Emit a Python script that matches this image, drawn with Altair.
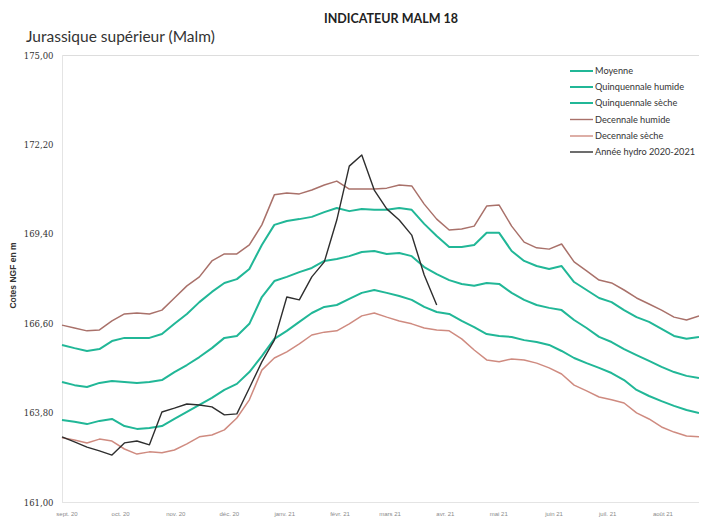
import altair as alt
import pandas as pd

# ---------------- data ----------------
weeks = list(range(52))

moyenne = [164.76, 164.66, 164.60, 164.73, 164.79, 164.76, 164.73, 164.76, 164.82, 165.07,
           165.29, 165.54, 165.82, 166.14, 166.20, 166.58, 167.42, 167.92, 168.05, 168.20,
           168.33, 168.55, 168.61, 168.70, 168.83, 168.86, 168.77, 168.80, 168.70, 168.36,
           168.14, 167.95, 167.83, 167.77, 167.86, 167.83, 167.55, 167.33, 167.17, 167.08,
           167.01, 166.70, 166.45, 166.17, 166.01, 165.79, 165.60, 165.42, 165.23, 165.07,
           164.95, 164.88]

quinq_humide = [165.92, 165.82, 165.73, 165.79, 166.04, 166.14, 166.14, 166.14, 166.26, 166.58,
                166.89, 167.26, 167.58, 167.86, 167.98, 168.30, 169.05, 169.68, 169.80, 169.86,
                169.93, 170.08, 170.21, 170.11, 170.18, 170.15, 170.15, 170.21, 170.15, 169.71,
                169.33, 168.99, 168.99, 169.05, 169.43, 169.43, 168.86, 168.55, 168.39, 168.30,
                168.39, 167.89, 167.64, 167.39, 167.26, 167.01, 166.79, 166.64, 166.42, 166.20,
                166.11, 166.17]

quinq_seche = [163.57, 163.51, 163.44, 163.54, 163.60, 163.38, 163.29, 163.32, 163.38, 163.60,
               163.82, 164.04, 164.26, 164.51, 164.70, 165.07, 165.57, 166.11, 166.36, 166.64,
               166.92, 167.11, 167.17, 167.36, 167.55, 167.64, 167.55, 167.45, 167.33, 167.11,
               166.95, 166.89, 166.67, 166.48, 166.26, 166.20, 166.17, 166.07, 166.01, 165.92,
               165.73, 165.51, 165.35, 165.20, 165.04, 164.82, 164.51, 164.32, 164.16, 164.01,
               163.88, 163.79]

dec_humide = [166.54, 166.45, 166.36, 166.39, 166.67, 166.89, 166.92, 166.89, 167.01, 167.39,
              167.77, 168.05, 168.55, 168.77, 168.77, 169.05, 169.68, 170.62, 170.68, 170.65,
              170.77, 170.93, 171.05, 170.80, 170.80, 170.80, 170.83, 170.93, 170.90, 170.33,
              169.86, 169.52, 169.55, 169.64, 170.27, 170.30, 169.64, 169.14, 168.96, 168.92,
              169.08, 168.52, 168.24, 167.95, 167.86, 167.64, 167.39, 167.20, 167.01, 166.79,
              166.70, 166.83]

dec_seche = [163.01, 162.94, 162.85, 162.97, 162.91, 162.66, 162.50, 162.57, 162.54, 162.63,
             162.82, 163.04, 163.10, 163.26, 163.63, 164.20, 165.13, 165.51, 165.70, 165.95,
             166.23, 166.32, 166.36, 166.58, 166.83, 166.92, 166.79, 166.67, 166.58, 166.45,
             166.39, 166.36, 166.11, 165.76, 165.45, 165.39, 165.48, 165.45, 165.35, 165.20,
             165.01, 164.66, 164.48, 164.29, 164.20, 164.10, 163.79, 163.60, 163.35, 163.19,
             163.07, 163.04]

hydro = [163.04, 162.88, 162.72, 162.60, 162.47, 162.85, 162.91, 162.79, 163.82, 163.94,
         164.07, 164.04, 163.98, 163.73, 163.76, 164.57, 165.39, 166.07, 167.42, 167.33,
         168.05, 168.52, 169.83, 171.52, 171.87, 170.77, 170.18, 169.83, 169.36, 168.11,
         167.17]

series_names = ["Moyenne", "Quinquennale humide", "Quinquennale sèche",
                "Decennale humide", "Decennale sèche", "Année hydro 2020-2021"]
series_values = [moyenne, quinq_humide, quinq_seche, dec_humide, dec_seche, hydro]

month_pos = [0, 4.29, 8.71, 13, 17.43, 21.86, 25.86, 30.29, 34.57, 39, 43.29, 47.71]
month_labels = ["sept. 20", "oct. 20", "nov. 20", "déc. 20", "janv. 21", "févr. 21",
                "mars 21", "avr. 21", "mai 21", "juin 21", "juil. 21", "août 21"]

y_ticks = [161.0, 163.8, 166.6, 169.4, 172.2, 175.0]

# ---------------- styling ----------------
TEAL = "#21b797"
BROWN_H = "#a9716a"
BROWN_S = "#cf8b80"
BLACK = "#2e2e2e"
colors = [TEAL, TEAL, TEAL, BROWN_H, BROWN_S, BLACK]
widths = [2.0, 2.0, 2.0, 1.5, 1.5, 1.4]

W, H = 637, 447

rows = []
for name, vals in zip(series_names, series_values):
    for w, v in zip(weeks, vals):
        rows.append({"semaine": w, "cote": v, "serie": name})
df = pd.DataFrame(rows)

x_scale = alt.Scale(domain=[0, 51], nice=False, zero=False)
y_scale = alt.Scale(domain=[161, 175], nice=False, zero=False)

base = alt.Chart(df)

layers = []
for k, name in enumerate(series_names):
    layer = base.transform_filter(alt.datum.serie == name).mark_line(
        color=colors[k], strokeWidth=widths[k], strokeJoin="round"
    ).encode(
        x=alt.X("semaine:Q", scale=x_scale,
                axis=alt.Axis(values=month_pos, labels=False, ticks=False, grid=False,
                              domain=True, domainColor="#e4e4e4", title=None)),
        y=alt.Y("cote:Q", scale=y_scale,
                axis=alt.Axis(values=y_ticks, grid=False, ticks=False,
                              domain=True, domainColor="#e4e4e4",
                              labelExpr="replace(format(datum.value, '.2f'), '.', ',')",
                              labelFont="DejaVu Serif", labelFontSize=8.5,
                              labelColor="#333333", labelPadding=9,
                              title="Cotes NGF en m", titleFont="Liberation Sans",
                              titleFontSize=8.5, titleFontWeight="bold",
                              titleColor="#333333", titleX=-50, titleY=220,
                              titleAngle=-90, titleAlign="center",
                              titleBaseline="middle")),
    )
    layers.append(layer)

# month labels along the bottom
months_df = pd.DataFrame({"pos": month_pos, "lab": month_labels})
month_text = alt.Chart(months_df).mark_text(
    font="Liberation Sans", fontSize=6, color="#8a8a8a", baseline="middle", align="center", dx=5
).encode(
    x=alt.X("pos:Q", scale=x_scale),
    y=alt.value(H + 12),
    text="lab:N",
)
layers.append(month_text)

# custom legend (top right, inside plot)
legend_rows_y = [16, 32, 48, 64.5, 81, 97]
for k, name in enumerate(series_names):
    ld = pd.DataFrame({"lab": [name]})
    rule = alt.Chart(ld).mark_rule(color=colors[k], strokeWidth=widths[k] if k < 3 else 1.4).encode(
        x=alt.value(508), x2=alt.value(531), y=alt.value(legend_rows_y[k])
    )
    txt = alt.Chart(ld).mark_text(
        font="Lato", fontSize=9.2, color="#333333", align="left", baseline="middle"
    ).encode(x=alt.value(533), y=alt.value(legend_rows_y[k]), text="lab:N")
    layers += [rule, txt]

# title and subtitle
tdf = pd.DataFrame({"t": ["INDICATEUR MALM 18"]})
title = alt.Chart(tdf).mark_text(
    font="Lato", fontSize=12.5, fontWeight="bold", color="#222222",
    align="center", baseline="middle"
).encode(x=alt.value(329), y=alt.value(-36), text="t:N")
sdf = pd.DataFrame({"t": ["Jurassique supérieur (Malm)"]})
subtitle = alt.Chart(sdf).mark_text(
    font="Lato", fontSize=15.5, color="#333333", align="left", baseline="middle"
).encode(x=alt.value(-36), y=alt.value(-18), text="t:N")
layers += [title, subtitle]

chart = alt.layer(*layers).properties(
    width=W, height=H,
    autosize=alt.AutoSizeParams(type="none"),
    padding={"left": 54, "top": 47, "right": 0, "bottom": 17},
).configure_view(stroke=None).configure(background="white")

chart.save("out.html", embed_options={"renderer": "svg", "actions": False})
